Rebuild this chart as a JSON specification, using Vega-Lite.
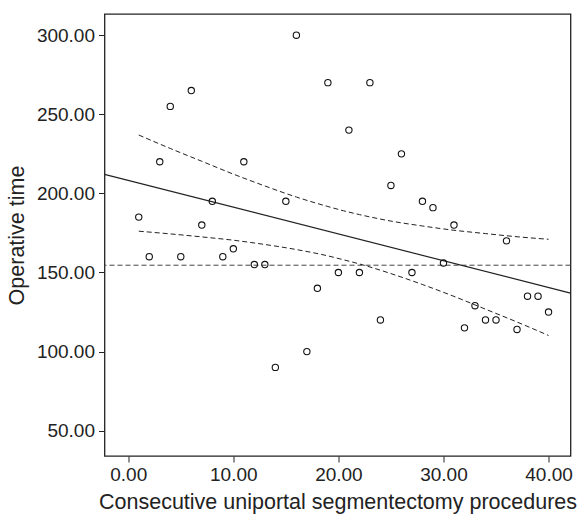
{
  "$schema": "https://vega.github.io/schema/vega-lite/v6.json",
  "autosize": {"type": "none"},
  "padding": {"left": 104.5, "top": 14, "right": 6, "bottom": 65},
  "width": 466,
  "height": 442,
  "background": "white",
  "config": {
    "view": {"stroke": "#222", "strokeWidth": 1.3},
    "font": "Liberation Sans",
    "axis": {
      "grid": false,
      "domain": false,
      "tickColor": "#222",
      "tickSize": 6,
      "tickWidth": 1,
      "labelColor": "#222",
      "titleColor": "#222",
      "labelFont": "Liberation Sans",
      "titleFont": "Liberation Sans",
      "labelFontSize": 19,
      "titleFontSize": 21.5,
      "titleFontWeight": "normal"
    }
  },
  "datasets": {
    "points": [
      {"proc": 1, "time": 185}, {"proc": 2, "time": 160}, {"proc": 3, "time": 220}, {"proc": 4, "time": 255},
      {"proc": 5, "time": 160}, {"proc": 6, "time": 265}, {"proc": 7, "time": 180}, {"proc": 8, "time": 195},
      {"proc": 9, "time": 160}, {"proc": 10, "time": 165}, {"proc": 11, "time": 220}, {"proc": 12, "time": 155},
      {"proc": 13, "time": 155}, {"proc": 14, "time": 90}, {"proc": 15, "time": 195}, {"proc": 16, "time": 300},
      {"proc": 17, "time": 100}, {"proc": 18, "time": 140}, {"proc": 19, "time": 270}, {"proc": 20, "time": 150},
      {"proc": 21, "time": 240}, {"proc": 22, "time": 150}, {"proc": 23, "time": 270}, {"proc": 24, "time": 120},
      {"proc": 25, "time": 205}, {"proc": 26, "time": 225}, {"proc": 27, "time": 150}, {"proc": 28, "time": 195},
      {"proc": 29, "time": 191}, {"proc": 30, "time": 156}, {"proc": 31, "time": 180}, {"proc": 32, "time": 115},
      {"proc": 33, "time": 129}, {"proc": 34, "time": 120}, {"proc": 35, "time": 120}, {"proc": 36, "time": 170},
      {"proc": 37, "time": 114}, {"proc": 38, "time": 135}, {"proc": 39, "time": 135}, {"proc": 40, "time": 125}
    ],
    "fit": [
      {"proc": -2.26, "time": 212.0},
      {"proc": 42.09, "time": 137.0}
    ],
    "band": [
      {"proc": 1, "time": 236.9, "bound": "upper"}, {"proc": 4, "time": 228.4, "bound": "upper"},
      {"proc": 7, "time": 220.3, "bound": "upper"}, {"proc": 10, "time": 212.2, "bound": "upper"},
      {"proc": 13, "time": 204.7, "bound": "upper"}, {"proc": 16, "time": 197.7, "bound": "upper"},
      {"proc": 19, "time": 191.7, "bound": "upper"}, {"proc": 20.5, "time": 189.0, "bound": "upper"},
      {"proc": 22, "time": 186.6, "bound": "upper"}, {"proc": 25, "time": 182.5, "bound": "upper"},
      {"proc": 28, "time": 179.4, "bound": "upper"}, {"proc": 31, "time": 176.7, "bound": "upper"},
      {"proc": 34, "time": 174.6, "bound": "upper"}, {"proc": 37, "time": 172.6, "bound": "upper"},
      {"proc": 40, "time": 171.0, "bound": "upper"},
      {"proc": 1, "time": 176.1, "bound": "lower"}, {"proc": 4, "time": 174.4, "bound": "lower"},
      {"proc": 7, "time": 172.5, "bound": "lower"}, {"proc": 10, "time": 170.4, "bound": "lower"},
      {"proc": 13, "time": 167.7, "bound": "lower"}, {"proc": 16, "time": 164.5, "bound": "lower"},
      {"proc": 19, "time": 160.5, "bound": "lower"}, {"proc": 20.5, "time": 158.0, "bound": "lower"},
      {"proc": 22, "time": 155.4, "bound": "lower"}, {"proc": 25, "time": 149.3, "bound": "lower"},
      {"proc": 28, "time": 142.4, "bound": "lower"}, {"proc": 31, "time": 134.9, "bound": "lower"},
      {"proc": 34, "time": 126.8, "bound": "lower"}, {"proc": 37, "time": 118.7, "bound": "lower"},
      {"proc": 40, "time": 110.2, "bound": "lower"}
    ],
    "ref": [{"time": 154.6}]
  },
  "layer": [
    {
      "data": {"name": "ref"},
      "mark": {"type": "rule", "color": "#444", "strokeWidth": 1, "strokeDash": [5, 3]},
      "encoding": {
        "y": {"field": "time", "type": "quantitative", "scale": {"domain": [34, 313.4], "nice": false, "zero": false}}
      }
    },
    {
      "data": {"name": "band"},
      "mark": {"type": "line", "color": "#222", "strokeWidth": 1, "strokeDash": [5, 3], "interpolate": "monotone"},
      "encoding": {
        "x": {"field": "proc", "type": "quantitative"},
        "y": {"field": "time", "type": "quantitative"},
        "detail": {"field": "bound", "type": "nominal"}
      }
    },
    {
      "data": {"name": "fit"},
      "mark": {"type": "line", "color": "#222", "strokeWidth": 1.2, "clip": true},
      "encoding": {
        "x": {"field": "proc", "type": "quantitative"},
        "y": {"field": "time", "type": "quantitative"}
      }
    },
    {
      "data": {"name": "points"},
      "mark": {"type": "point", "shape": "circle", "filled": false, "color": "#111", "strokeWidth": 1.1, "size": 40, "opacity": 1},
      "encoding": {
        "x": {
          "field": "proc", "type": "quantitative",
          "scale": {"domain": [-2.26, 42.09], "nice": false, "zero": false},
          "axis": {
            "values": [0, 10, 20, 30, 40], "format": ".2f",
            "labelPadding": 3,
            "title": "Consecutive uniportal segmentectomy procedures",
            "titleY": 46, "titleBaseline": "middle"
          }
        },
        "y": {
          "field": "time", "type": "quantitative",
          "scale": {"domain": [34, 313.4], "nice": false, "zero": false},
          "axis": {
            "values": [50, 100, 150, 200, 250, 300], "format": ".2f",
            "labelPadding": 4,
            "title": "Operative time",
            "titleX": -87, "titleBaseline": "middle"
          }
        }
      }
    }
  ]
}
